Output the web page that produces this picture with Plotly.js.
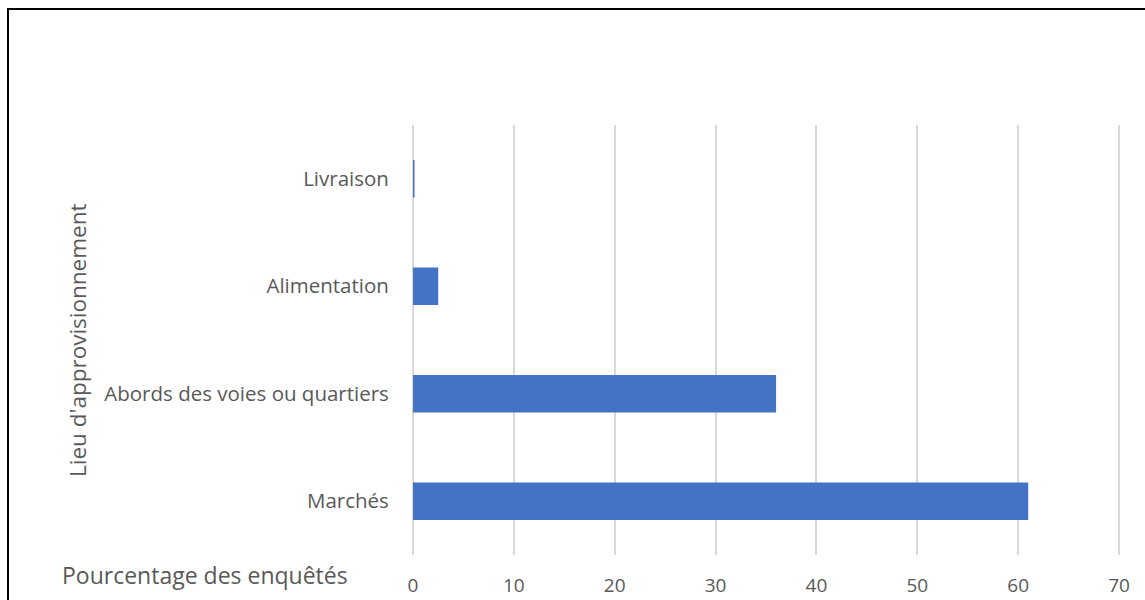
<!DOCTYPE html>
<html>
<head>
<meta charset="utf-8">
<script src="https://cdn.plot.ly/plotly-3.0.1.min.js"></script>
<style>
  body { margin: 0; padding: 0; background: #fff; }
  #wrap { position: relative; width: 1145px; height: 600px; overflow: hidden; }
  #chart { position: absolute; left: 0; top: 0; width: 1145px; height: 600px; }
  #frame { position: absolute; left: 7px; top: 8px; width: 1150px; height: 620px;
           border-left: 2px solid #000; border-top: 2px solid #000; pointer-events: none; }
</style>
</head>
<body>
<div id="wrap">
  <div id="chart"></div>
  <div id="frame"></div>
</div>
<script>
const categories = ["Marchés", "Abords des voies ou quartiers", "Alimentation", "Livraison"];
const values = [61, 36, 2.5, 0.15];
const xTickValues = [0, 10, 20, 30, 40, 50, 60, 70];
const xTitle = "Pourcentage des enquêtés";
const yTitle = "Lieu d'approvisionnement";

const fontFam = "'Open Sans', 'Liberation Sans', sans-serif";
const textColor = "#595959";

const L = 412, R = 25, T = 125, B = 45;
const PW = 1145 - L - R, PH = 600 - T - B;

const data = [{
  type: "bar",
  orientation: "h",
  y: categories,
  x: values,
  marker: { color: "#4472C4", line: { width: 0 } },
  hoverinfo: "x+y"
}];

const layout = {
  width: 1145,
  height: 600,
  margin: { l: L, r: R, t: T, b: B },
  paper_bgcolor: "#fff",
  plot_bgcolor: "#fff",
  showlegend: false,
  bargap: 0.65,
  font: { family: fontFam, color: textColor, size: 20 },
  xaxis: {
    range: [-0.1, 70.1],
    tickvals: xTickValues,
    ticktext: xTickValues.map(String),
    showgrid: true,
    gridcolor: "#d9d9d9",
    gridwidth: 2,
    zeroline: false,
    showline: false,
    ticks: "outside",
    ticklen: 13,
    tickcolor: "rgba(0,0,0,0)",
    tickfont: { size: 19, color: textColor, family: fontFam },
    fixedrange: true
  },
  yaxis: {
    categoryorder: "array",
    categoryarray: categories,
    showgrid: false,
    zeroline: false,
    showline: false,
    ticks: "outside",
    ticklen: 18,
    tickcolor: "rgba(0,0,0,0)",
    tickfont: { size: 20.5, color: textColor, family: fontFam },
    fixedrange: true
  },
  annotations: [
    {
      text: xTitle, xref: "paper", yref: "paper",
      x: (205 - L) / PW, y: (600 - 575 - B) / PH,
      xanchor: "center", yanchor: "middle", showarrow: false,
      font: { size: 23, color: textColor, family: fontFam }
    },
    {
      text: yTitle, xref: "paper", yref: "paper", textangle: -90,
      x: (77 - L) / PW, y: (600 - 340 - B) / PH,
      xanchor: "center", yanchor: "middle", showarrow: false,
      font: { size: 22.5, color: textColor, family: fontFam }
    }
  ]
};

Plotly.newPlot("chart", data, layout, { displayModeBar: false, staticPlot: true });
</script>
</body>
</html>
